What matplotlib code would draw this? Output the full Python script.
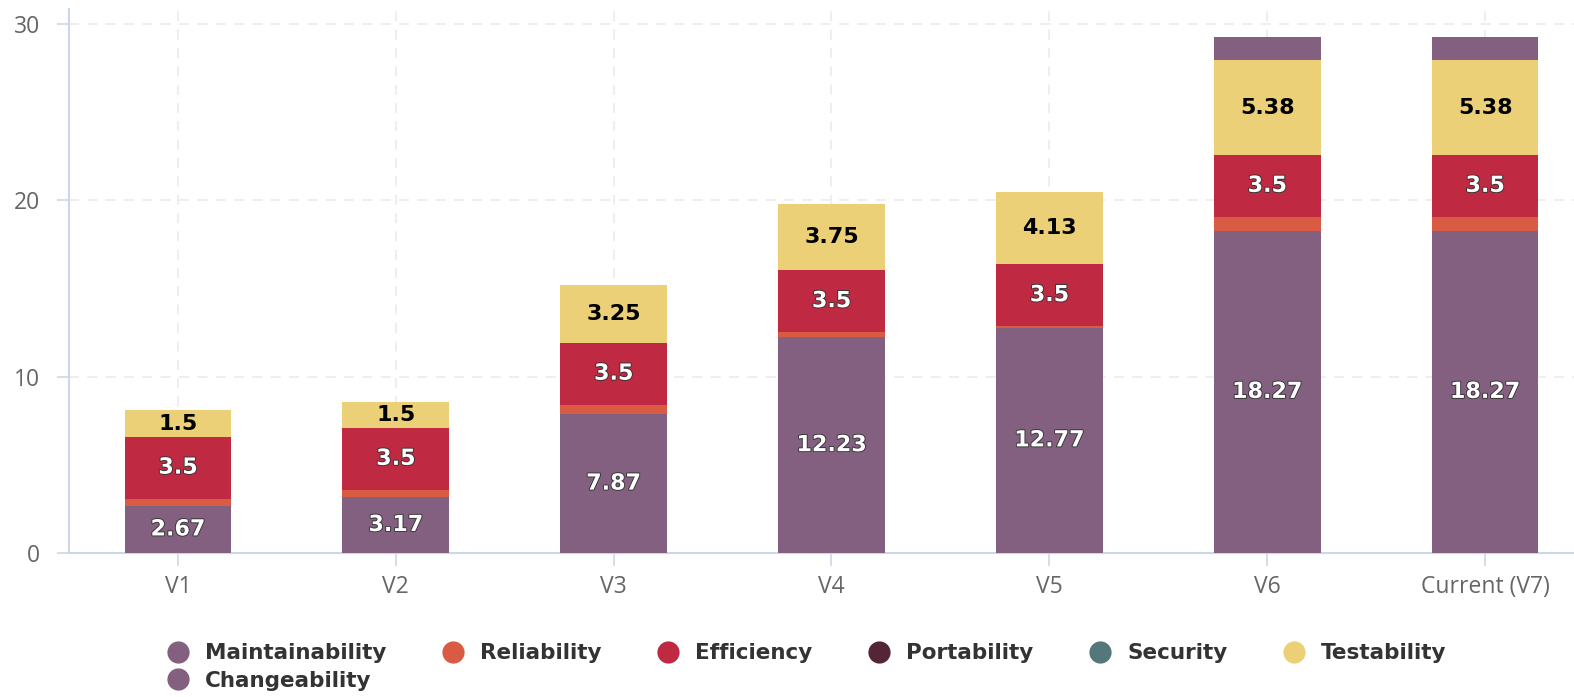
import numpy as np
import matplotlib
matplotlib.use("Agg")
import matplotlib.pyplot as plt
import matplotlib.patheffects as pe
from matplotlib.lines import Line2D

versions = ['V1', 'V2', 'V3', 'V4', 'V5', 'V6', 'Current (V7)']

maintainability = [2.67, 3.17, 7.87, 12.23, 12.77, 18.27, 18.27]
reliability = [0.42, 0.42, 0.55, 0.3, 0.1, 0.8, 0.8]
efficiency = [3.5, 3.5, 3.5, 3.5, 3.5, 3.5, 3.5]
portability = [0, 0, 0, 0, 0, 0, 0]
security = [0, 0, 0, 0, 0, 0, 0]
testability = [1.5, 1.5, 3.25, 3.75, 4.13, 5.38, 5.38]
changeability = [0, 0, 0, 0, 0, 1.33, 1.33]

series = [
    ('Maintainability', maintainability, '#836080', True),
    ('Reliability', reliability, '#d95b43', False),
    ('Efficiency', efficiency, '#c02942', True),
    ('Portability', portability, '#542437', False),
    ('Security', security, '#53777a', False),
    ('Testability', testability, '#ecd078', True),
    ('Changeability', changeability, '#836080', False),
]

fig = plt.figure(figsize=(15.74, 6.97), dpi=100)
ax = fig.add_axes([69 / 1574, 1 - 553 / 697, (1594 - 69) / 1574, (553 - 9) / 697])

x = np.arange(len(versions))
bottom = np.zeros(len(versions))
for name, vals, color, labelled in series:
    vals = np.array(vals, dtype=float)
    ax.bar(x, vals, 0.49, bottom=bottom, color=color, zorder=3, linewidth=0)
    if labelled:
        for xi, b, v in zip(x, bottom, vals):
            if v <= 0:
                continue
            dark = color == '#ecd078'
            txt = ax.text(xi, b + v / 2, f'{v:g}', ha='center', va='center',
                          fontsize=16, fontweight='bold', family='DejaVu Sans',
                          color='black' if dark else 'white', zorder=4)
            if not dark:
                txt.set_path_effects([pe.withStroke(linewidth=1.3, foreground='#333333')])
    bottom += vals

ax.set_xlim(-0.5, len(versions) - 0.5)
ax.set_ylim(0, 30.85)
ax.set_yticks([0, 10, 20, 30])
ax.set_xticks(x)
ax.set_xticklabels(versions)

for s in ['top', 'right']:
    ax.spines[s].set_visible(False)
for s in ['left', 'bottom']:
    ax.spines[s].set_color('#ccd6eb')
    ax.spines[s].set_linewidth(1.5)

ax.grid(True, color='#ebebeb', linestyle=(0, (6, 5)), linewidth=1.2, zorder=0)
ax.tick_params(axis='both', colors='#ccd6eb', length=9, width=1.2, labelsize=16.5,
               labelcolor='#666666')
ax.tick_params(axis='y', pad=12)
ax.tick_params(axis='x', pad=7)
for lbl in ax.get_xticklabels() + ax.get_yticklabels():
    lbl.set_family('Open Sans')

# legend: columns fill top-to-bottom, so Changeability goes under Maintainability
order = [0, 6, 1, 2, 3, 4, 5]
handles = [Line2D([], [], marker='o', linestyle='', markersize=16,
                  markerfacecolor=series[i][2], markeredgewidth=0) for i in order]
labels = [series[i][0] for i in order]
fig.legend(handles, labels, ncol=6, loc='upper left', bbox_to_anchor=(148 / 1574, 1 - 624 / 697),
           frameon=False, handlelength=1.0, handletextpad=0.75, columnspacing=2.6,
           labelspacing=0.35, prop={'family': 'DejaVu Sans', 'weight': 'bold', 'size': 15.5},
           labelcolor='#333333')

fig.savefig('out.png', dpi=100)
